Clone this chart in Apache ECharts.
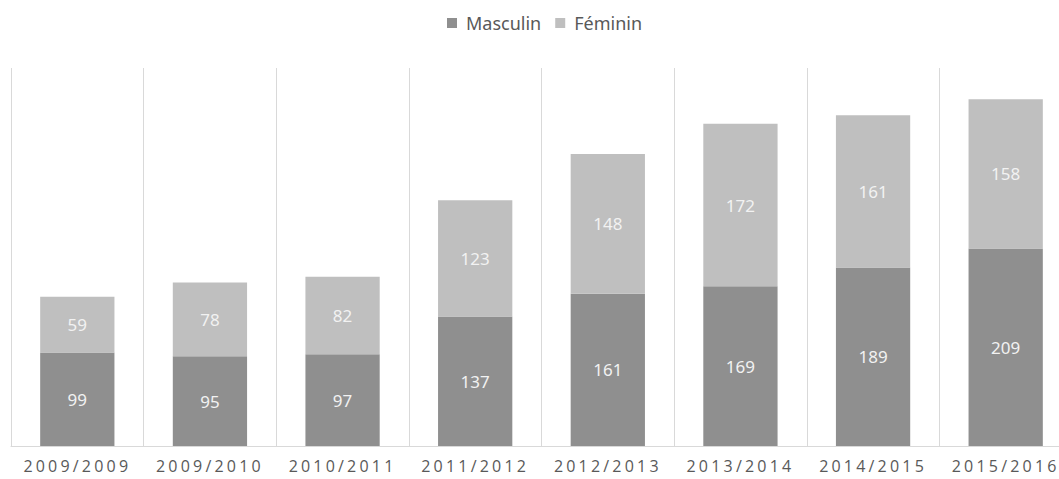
<!DOCTYPE html>
<html>
<head>
<meta charset="utf-8">
<script src="https://cdn.jsdelivr.net/npm/echarts@6/dist/echarts.min.js"></script>
<style>
  html, body { margin: 0; padding: 0; background: #fff; }
  #chart { width: 1059px; height: 479px; }
  /* spaced-out year labels, like the original */
  #chart text[style*="Open Sans"] { letter-spacing: 3.2px; }
</style>
</head>
<body>
<div id="chart"></div>
<script>
const years = ['2009/2009', '2009/2010', '2010/2011', '2011/2012', '2012/2013', '2013/2014', '2014/2015', '2015/2016'];
const masculin = [99, 95, 97, 137, 161, 169, 189, 209];
const feminin = [59, 78, 82, 123, 148, 172, 161, 158];

const chart = echarts.init(document.getElementById('chart'), null, { renderer: 'svg' });

const labelStyle = {
  show: true,
  position: 'inside',
  color: '#f2f2f2',
  fontSize: 17,
  fontFamily: 'Noto Sans'
};

chart.setOption({
  animation: false,
  legend: {
    top: 9,
    left: 442,
    itemWidth: 10,
    itemHeight: 10,
    itemGap: 14,
    icon: 'rect',
    formatter: '{t|{name}}',
    textStyle: {
      color: '#595959', fontSize: 18, fontFamily: 'Noto Sans',
      rich: { t: { color: '#595959', fontSize: 18, fontFamily: 'Noto Sans', padding: [0, 0, 0, 4] } }
    },
    data: ['Masculin', 'Féminin']
  },
  grid: {
    left: 11,
    top: 68,
    width: 1061,
    height: 378,
    outerBoundsMode: 'none'
  },
  xAxis: {
    type: 'category',
    data: years,
    axisLine: { lineStyle: { color: '#d9d9d9' } },
    axisTick: { show: false },
    axisLabel: { color: '#595959', fontSize: 16, fontFamily: 'Open Sans', margin: 12 },
    splitLine: { show: true, lineStyle: { color: '#d9d9d9' } }
  },
  yAxis: {
    type: 'value',
    min: 0,
    max: 400,
    show: false,
    splitLine: { show: false }
  },
  series: [
    {
      name: 'Masculin',
      type: 'bar',
      stack: 'total',
      barCategoryGap: '44%',
      itemStyle: { color: '#8f8f8f' },
      label: labelStyle,
      data: masculin
    },
    {
      name: 'Féminin',
      type: 'bar',
      stack: 'total',
      barCategoryGap: '44%',
      itemStyle: { color: '#bfbfbf' },
      label: labelStyle,
      data: feminin
    }
  ]
});
</script>
</body>
</html>
